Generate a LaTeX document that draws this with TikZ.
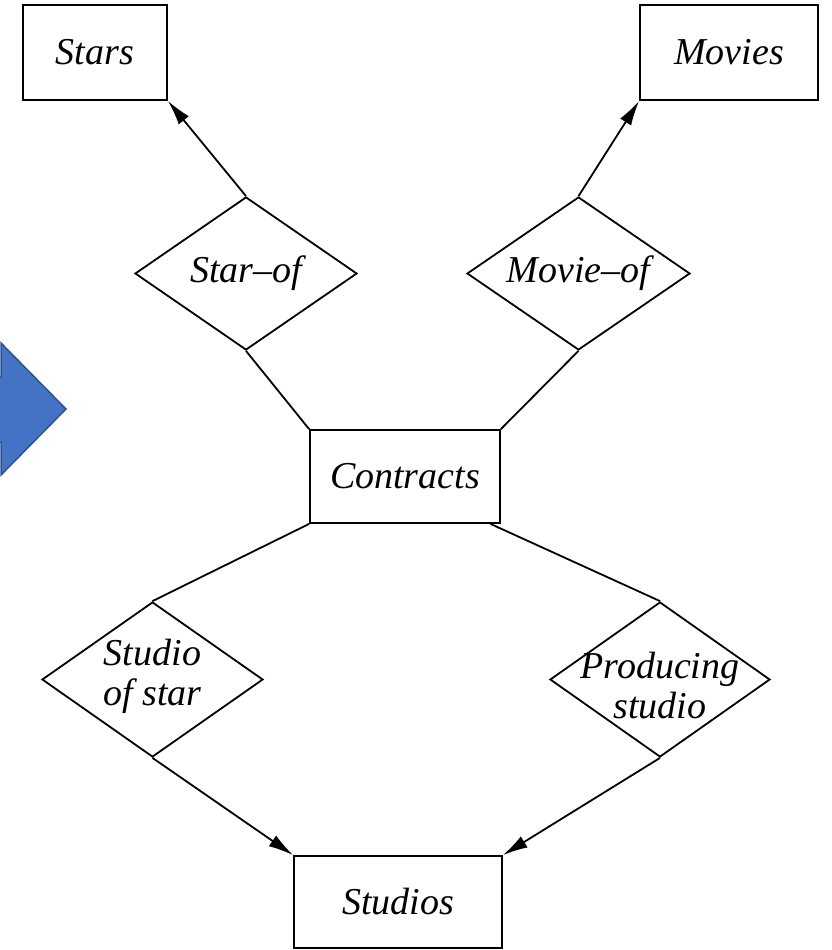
\documentclass[tikz,border=0pt]{standalone}
\usepackage{fontspec}
\setmainfont{Liberation Serif}
\usetikzlibrary{shapes.geometric,arrows.meta}
\begin{document}
\begin{tikzpicture}[x=1pt,y=1pt,
  line width=1.8pt,
  entity/.style={draw, rectangle, inner sep=0pt},
  rel/.style={draw, diamond, inner sep=0pt},
  lbl/.style={font=\fontsize{38}{40}\selectfont\itshape, align=center, inner sep=0pt},
  link/.style={draw},
  tolink/.style={draw, -{Latex[length=25pt,width=13pt]}},
]
\useasboundingbox (0,0) rectangle (831,-950);
\clip (0,0) rectangle (831,-950);

% blue block arrow at the left edge
\filldraw[fill={rgb,255:red,68;green,114;blue,196}, draw={rgb,255:red,47;green,82;blue,143}, line width=1.5pt, line join=miter]
  (-20,-377) -- (1,-377) -- (1,-343) -- (66,-409) -- (1,-475) -- (1,-442) -- (-20,-442) -- cycle;

% entity sets
\node[entity, minimum width=144pt, minimum height=95pt] (stars) at (95,-52.5) {};
\node[lbl] at (stars) {Stars};
\node[entity, minimum width=178pt, minimum height=95pt] (movies) at (729,-52.5) {};
\node[lbl] at (movies) {Movies};
\node[entity, minimum width=190pt, minimum height=93pt] (contracts) at (405,-476.5) {};
\node[lbl] at (contracts) {Contracts};
\node[entity, minimum width=208pt, minimum height=92pt] (studios) at (398,-902) {};
\node[lbl] at (studios) {Studios};

% relationships
\node[rel, minimum width=222pt, minimum height=153pt] (starof) at (246,-273.5) {};
\node[lbl] at (starof) {Star--of};
\node[rel, minimum width=223pt, minimum height=153pt] (movieof) at (578.5,-273.5) {};
\node[lbl] at (movieof) {Movie--of};
\node[rel, minimum width=221pt, minimum height=155pt] (sos) at (152.5,-679.5) {};
\node[lbl] at ([yshift=3pt]sos) {Studio\\of star};
\node[rel, minimum width=220pt, minimum height=155pt] (prod) at (660,-679.5) {};
\node[lbl] at ([yshift=-6pt]prod) {Producing\\studio};

% connectors
\draw[tolink] (starof.north) -- (stars.south east);
\draw[tolink] (movieof.north) -- (movies.south west);
\draw[link] (starof.south) -- (contracts.north west);
\draw[link] (movieof.south) -- (contracts.north east);
\draw[link] (contracts.south west) -- (sos.north);
\draw[link] (contracts.-29) -- (prod.north);
\draw[tolink] (sos.south) -- (studios.north west);
\draw[tolink] (prod.south) -- (studios.north east);
\end{tikzpicture}
\end{document}
